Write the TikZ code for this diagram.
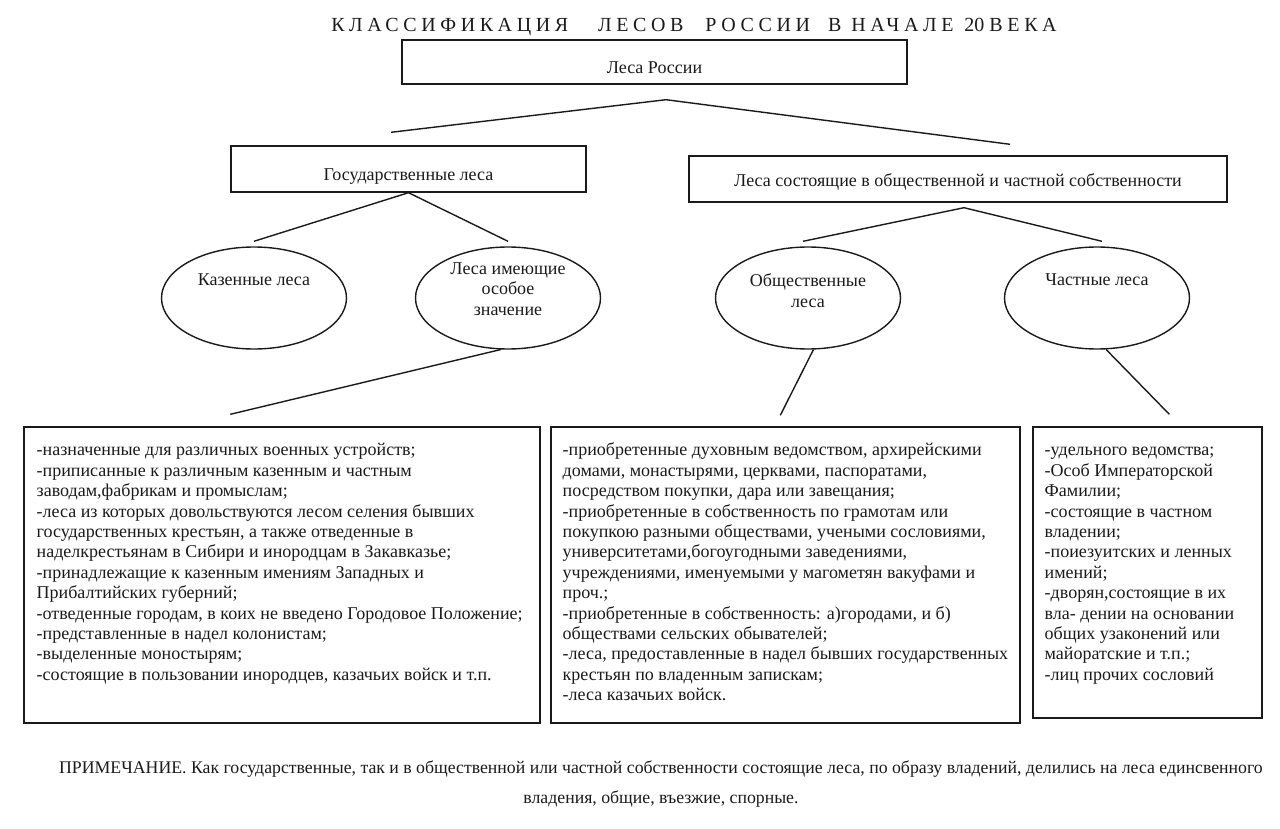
\documentclass[tikz,border=0pt]{standalone}
\usepackage{fontspec}
\setmainfont{Liberation Serif}
\usetikzlibrary{shapes.geometric}
\definecolor{ink}{HTML}{1A1A1A}
\newcommand{\spaced}[1]{{\addfontfeature{LetterSpace=23}#1}}

\begin{document}
\begin{tikzpicture}[
  x=0.5pt, y=-0.5pt,
  font=\fontsize{9}{10.2}\selectfont, text=ink,
  box/.style    = {draw=ink, line width=0.7pt, inner sep=0pt, align=center},
  oval/.style   = {draw=ink, ellipse, line width=0.7pt, inner sep=0pt,
                   minimum width=92.5pt, minimum height=51pt},
  ovtext/.style = {align=center, inner sep=0pt},
  list/.style   = {align=left, inner sep=0pt, anchor=north west},
  link/.style   = {draw=ink, line width=0.7pt},
]
\useasboundingbox (0,0) rectangle (1280,829);

\node[inner sep=0pt] (title) at (694,27)
  {\fontsize{10}{12}\selectfont
   \spaced{КЛАССИФИКАЦИЯ}\hspace{15pt}\spaced{ЛЕСОВ}\hspace{11pt}\spaced{РОССИИ}\hspace{9pt}%
   \spaced{В}\hspace{5pt}\spaced{НАЧАЛЕ}\hspace{5.5pt}20\hspace{2.5pt}\spaced{ВЕКА}};

\node[box, minimum width=252.5pt, minimum height=22pt] (root) at (654.5,62)
  {\raisebox{-3pt}[\height][\depth]{Леса России}};
\node[box, minimum width=177.5pt, minimum height=23pt] (gos) at (408.5,169)
  {\raisebox{-4pt}[\height][\depth]{Государственные леса}};
\node[box, minimum width=269pt, minimum height=23pt] (obch) at (958,179)
  {\raisebox{-1.5pt}[\height][\depth]{Леса состоящие в общественной и частной собственности}};

\node[oval] (kaz) at (254,298) {};
\node[oval] (osob) at (508,298) {};
\node[oval] (obsh) at (808,298) {};
\node[oval] (chast) at (1097,298) {};
\node[ovtext] (kazt) at ([yshift=9pt]kaz.center) {Казенные леса};
\node[ovtext] (osobt) at ([yshift=4.5pt]osob.center) {Леса имеющие\\ особое\\ значение};
\node[ovtext] (obsht) at ([yshift=3.75pt]obsh.center) {Общественные\\ леса};
\node[ovtext] (chastt) at ([yshift=9pt]chast.center) {Частные леса};

\node[box, minimum width=258pt, minimum height=148pt] (osobbox) at (282,575) {};
\node[box, minimum width=234.5pt, minimum height=148pt] (obshbox) at (785.5,575) {};
\node[box, minimum width=114.5pt, minimum height=145.5pt] (chastbox) at (1147.5,572.5) {};

\node[list] (osoblist) at ([shift={(13,15)}]osobbox.north west)
  {\strut-назначенные для различных военных устройств;\\
   -приписанные к различным казенным и частным\\
   заводам,фабрикам и промыслам;\\
   -леса из которых довольствуются лесом селения бывших\\
   государственных крестьян, а также отведенные в\\
   наделкрестьянам в Сибири и инородцам в Закавказье;\\
   -принадлежащие к казенным имениям Западных и\\
   Прибалтийских губерний;\\
   -отведенные городам, в коих не введено Городовое Положение;\\
   -представленные в надел колонистам;\\
   -выделенные моностырям;\\
   -состоящие в пользовании инородцев, казачьих войск и т.п.};
\node[list] (obshlist) at ([shift={(12,15)}]obshbox.north west)
  {\strut-приобретенные духовным ведомством, архирейскими\\
   домами, монастырями, церквами, паспоратами,\\
   посредством покупки, дара или завещания;\\
   -приобретенные в собственность по грамотам или\\
   покупкою разными обществами, учеными сословиями,\\
   университетами,богоугодными заведениями,\\
   учреждениями, именуемыми у магометян вакуфами и\\
   проч.;\\
   -приобретенные в собственность: а)городами, и б)\\
   обществами сельских обывателей;\\
   -леса, предоставленные в надел бывших государственных\\
   крестьян по владенным запискам;\\
   -леса казачьих войск.};
\node[list] (chastlist) at ([shift={(12,15)}]chastbox.north west)
  {\strut-удельного ведомства;\\
   -Особ Императорской\\
   Фамилии;\\
   -состоящие в частном\\
   владении;\\
   -поиезуитских и ленных\\
   имений;\\
   -дворян,состоящие в их\\
   вла- дении на основании\\
   общих узаконений или\\
   майоратские и т.п.;\\
   -лиц прочих сословий};

% free ends of the fork lines
\coordinate (rootfork) at ([shift={(11.5,15)}]root.south);
\coordinate (gosend) at ([shift={(-17.5,-13)}]gos.north);
\coordinate (obchend) at ([shift={(52,-11)}]obch.north);
\coordinate (obchfork) at ([shift={(6,5)}]obch.south);

\draw[link] (gosend) -- (rootfork) -- (obchend);
\draw[link] ([yshift=2.5pt]kaz.north) -- (gos.south) -- ([yshift=2.5pt]osob.north);
\draw[link] ([shift={(-5,-5)}]obsh.north) -- (obchfork) -- ([shift={(5,-5)}]chast.north);

\draw[link] (osob.-98) -- ([shift={(207,-12)}]osobbox.north west);
\draw[link] (obsh.-84) -- ([shift={(230,-11)}]obshbox.north west);
\draw[link] (chast.-80) -- ([shift={(137,-12)}]chastbox.north west);

\node[align=center, inner sep=0pt, font=\fontsize{8.88}{10.2}\selectfont] (note) at (661,784)
  {ПРИМЕЧАНИЕ. Как государственные, так и в общественной или частной собственности состоящие леса, по образу владений, делились на леса единсвенного\\[4.8pt]
   владения, общие, въезжие, спорные.};

\end{tikzpicture}
\end{document}
